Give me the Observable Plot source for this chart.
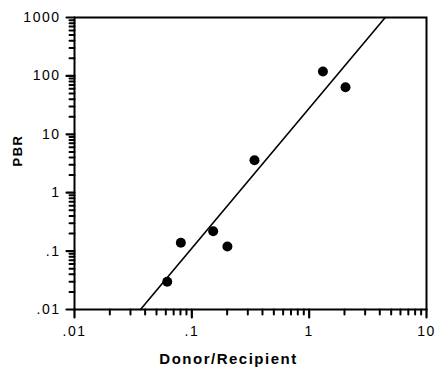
<!DOCTYPE html>
<html><head><meta charset="utf-8">
<script src="https://cdn.jsdelivr.net/npm/d3@7"></script>
<script src="https://cdn.jsdelivr.net/npm/@observablehq/plot@0.6"></script>
<style>
body{margin:0;background:#fff;}
</style></head><body><div id="chart"></div>
<script>
const donorRecipient = [0.0617, 0.0806, 0.152, 0.201, 0.342, 1.31, 2.04];
const pbr = [0.0298, 0.139, 0.219, 0.12, 3.6, 119, 64];
const fitX = [0.0365, 4.45];
const fitY = [0.01, 1000];
const xTicks = [0.01, 0.1, 1, 10];
const xTickLabels = [".01", ".1", "1", "10"];
const yTicks = [0.01, 0.1, 1, 10, 100, 1000];
const yTickLabels = [".01", ".1", "1", "10", "100", "1000"];
const minorSteps = [2, 3, 4, 5, 6, 7, 8, 9];
const xMinor = [0.01, 0.1, 1].flatMap(d => minorSteps.map(k => k * d));
const yMinor = [0.01, 0.1, 1, 10, 100].flatMap(d => minorSteps.map(k => k * d));

const points = donorRecipient.map((x, i) => ({x, y: pbr[i]}));
const fit = fitX.map((x, i) => ({x, y: fitY[i]}));
const fmt = (arr, labels) => d => labels[arr.indexOf(d)];
const tickShape = {draw(context, l) { context.moveTo(0, 0); context.lineTo(0, -l); }};

const chart = Plot.plot({
  width: 436, height: 368,
  marginLeft: 74, marginRight: 10, marginTop: 17, marginBottom: 59,
  style: {fontFamily: "'Liberation Sans', Arial, sans-serif", fontSize: "14px", color: "#000", background: "#fff", letterSpacing: "1.5px"},
  x: {type: "log", domain: [0.01, 10]},
  y: {type: "log", domain: [0.01, 1000]},
  marks: [
    Plot.vector(xMinor, {x: d => d, frameAnchor: "bottom", anchor: "start", rotate: 180, length: 5, shape: tickShape, stroke: "#000", strokeWidth: 2}),
    Plot.vector(yMinor, {y: d => d, frameAnchor: "left", anchor: "start", rotate: -90, length: 5, shape: tickShape, stroke: "#000", strokeWidth: 2}),
    Plot.vector(xTicks, {x: d => d, frameAnchor: "bottom", anchor: "start", rotate: 180, length: 8, shape: tickShape, stroke: "#000", strokeWidth: 2.2}),
    Plot.vector(yTicks, {y: d => d, frameAnchor: "left", anchor: "start", rotate: -90, length: 8, shape: tickShape, stroke: "#000", strokeWidth: 2.2}),
    Plot.axisX({ticks: xTicks, tickSize: 0, tickPadding: 17, tickFormat: fmt(xTicks, xTickLabels), label: null}),
    Plot.axisY({ticks: yTicks, tickSize: 0, tickPadding: 14, tickFormat: fmt(yTicks, yTickLabels), label: null}),
    Plot.frame({strokeWidth: 2}),
    Plot.line(fit, {x: "x", y: "y", strokeWidth: 1.6}),
    Plot.dot(points, {x: "x", y: "y", r: 5, fill: "#000"}),
    Plot.text(["Donor/Recipient"], {frameAnchor: "bottom", dy: 54, dx: -22, fontWeight: "bold", fontSize: 15}),
    Plot.text(["PBR"], {frameAnchor: "left", dx: -57, dy: 3, rotate: -90, fontWeight: "bold", fontSize: 13})
  ]
});
document.getElementById("chart").appendChild(chart);
</script></body></html>
